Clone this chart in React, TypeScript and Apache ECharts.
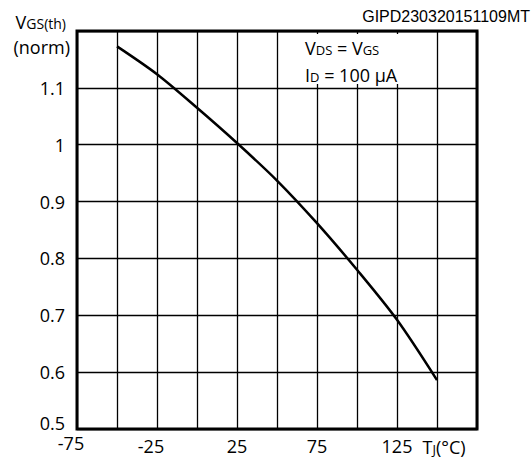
import React, { useEffect, useRef } from "react";
import * as echarts from "echarts";

const temperatures = [-50, -25, 0, 25, 50, 75, 100, 125, 150];
const vgsNorm = [1.173, 1.124, 1.065, 1.003, 0.937, 0.862, 0.78, 0.692, 0.586];
const xLabelValues = [-75, -25, 25, 75, 125];
const yLabelValues = [0.5, 0.6, 0.7, 0.8, 0.9, 1, 1.1];

const FONT = "Open Sans";

export default function App() {
  const ref = useRef<HTMLDivElement>(null);
  useEffect(() => {
    if (!ref.current) return;
    const chart = echarts.init(ref.current, null, { renderer: "svg" });
    chart.setOption({
      animation: false,
      backgroundColor: "#fff",
      grid: {
        left: 77,
        right: 55,
        top: 31,
        bottom: 29,
        show: true,
        borderColor: "#000",
        borderWidth: 3,
        z: 3,
      },
      xAxis: {
        type: "value",
        min: -75,
        max: 175,
        interval: 25,
        axisLine: { show: false },
        axisTick: { show: false },
        splitLine: { show: true, lineStyle: { color: "#000", width: 1.3 } },
        axisLabel: {
          margin: 5,
          color: "#000",
          fontFamily: FONT,
          fontSize: 18,
          lineHeight: 18,
          formatter: (v: number) => {
            const r = Math.round(v);
            if (!xLabelValues.includes(r)) return "";
            if (r === -75) return "{a|-75}";
            if (r < 0) return "{n|" + r + "}";
            return "{p|" + r + "}";
          },
          rich: {
            a: { fontFamily: FONT, fontSize: 18, lineHeight: 18, color: "#000", padding: [0, 12, 0, 0] },
            n: { fontFamily: FONT, fontSize: 18, lineHeight: 18, color: "#000", padding: [5, 12, 0, 0] },
            p: { fontFamily: FONT, fontSize: 18, lineHeight: 18, color: "#000", padding: [5, 0, 0, 0] },
          },
        },
      },
      yAxis: {
        type: "value",
        min: 0.5,
        max: 1.2,
        interval: 0.1,
        axisLine: { show: false },
        axisTick: { show: false },
        splitLine: { show: true, lineStyle: { color: "#000", width: 1.3 } },
        axisLabel: {
          margin: 12,
          color: "#000",
          fontFamily: FONT,
          fontSize: 18,
          formatter: (v: number) => {
            const r = Math.round(v * 10) / 10;
            if (!yLabelValues.includes(r)) return "";
            if (r === 0.5) return "{b|0.5}";
            return "{m|" + String(r) + "}";
          },
          rich: {
            b: { fontFamily: FONT, fontSize: 18, color: "#000", padding: [0, 0, 12, 0] },
            m: { fontFamily: FONT, fontSize: 18, color: "#000" },
          },
        },
      },
      series: [
        {
          type: "line",
          data: temperatures.map((t, i) => [t, vgsNorm[i]]),
          smooth: 0.3,
          showSymbol: false,
          lineStyle: { color: "#000", width: 2.5 },
          z: 4,
        },
      ],
      graphic: [
        {
          type: "rect",
          shape: { x: 290, y: 34, width: 135, height: 50 },
          style: { fill: "#fff" },
          z: 10,
        },
        {
          type: "text",
          x: 305,
          y: 48,
          z: 11,
          style: {
            text: "{b|V}{s|DS}{b| = V}{s|GS}",
            verticalAlign: "middle",
            rich: {
              b: { fontFamily: FONT, fontSize: 18, fill: "#000" },
              s: { fontFamily: FONT, fontSize: 13, fill: "#000", padding: [3, 0, 0, 0] },
            },
          },
        },
        {
          type: "text",
          x: 305,
          y: 75,
          z: 11,
          style: {
            text: "{b|I}{s|D}{b| = 100 µA}",
            verticalAlign: "middle",
            rich: {
              b: { fontFamily: FONT, fontSize: 18, fill: "#000" },
              s: { fontFamily: FONT, fontSize: 13, fill: "#000", padding: [3, 0, 0, 0] },
            },
          },
        },
        {
          type: "text",
          x: 66,
          y: 22,
          z: 11,
          style: {
            text: "{b|V}{s|GS(th)}",
            align: "right",
            verticalAlign: "middle",
            rich: {
              b: { fontFamily: FONT, fontSize: 18, fill: "#000" },
              s: { fontFamily: FONT, fontSize: 14, fill: "#000", padding: [3, 0, 0, 0] },
            },
          },
        },
        {
          type: "text",
          x: 70,
          y: 47,
          z: 11,
          style: {
            text: "(norm)",
            align: "right",
            verticalAlign: "middle",
            fontFamily: FONT,
            fontSize: 18,
            fill: "#000",
          },
        },
        {
          type: "text",
          x: 444,
          y: 447,
          z: 11,
          style: {
            text: "{b|T}{s|J}{b|(°C)}",
            align: "center",
            verticalAlign: "middle",
            rich: {
              b: { fontFamily: FONT, fontSize: 18, fill: "#000" },
              s: { fontFamily: FONT, fontSize: 13, fill: "#000", padding: [3, 0, 0, 0] },
            },
          },
        },
        {
          type: "text",
          x: 530,
          y: 16,
          z: 11,
          style: {
            text: "GIPD230320151109MT",
            align: "right",
            verticalAlign: "middle",
            fontFamily: "Liberation Sans",
            fontSize: 16,
            fill: "#000",
          },
        },
      ],
    });
    return () => chart.dispose();
  }, []);
  return (
    <div
      ref={ref}
      style={{ position: "fixed", left: 0, top: 0, width: 532, height: 458 }}
    />
  );
}
